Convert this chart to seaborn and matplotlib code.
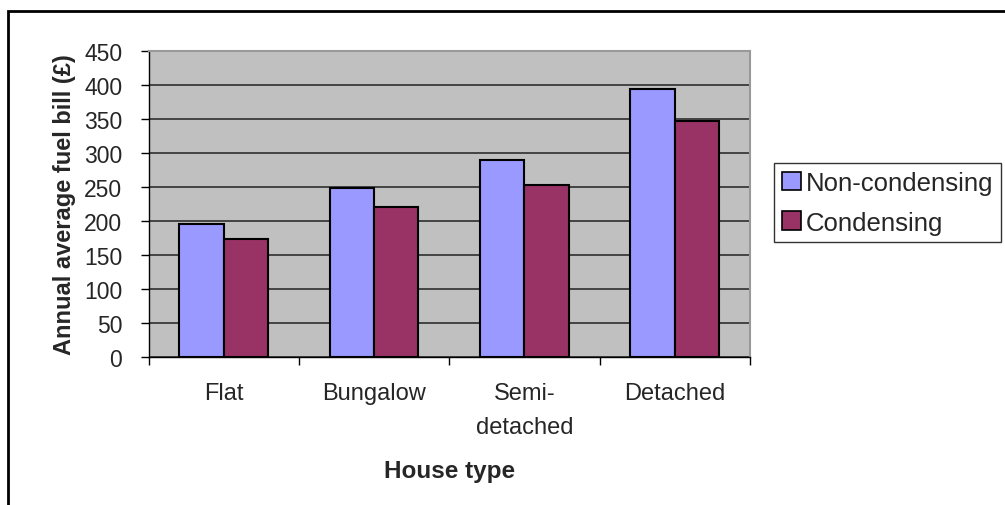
import pandas as pd
import matplotlib.pyplot as plt
import seaborn as sns
from matplotlib.patches import Rectangle

# values
house_types = ["Flat", "Bungalow", "Semi-\ndetached", "Detached"]
non_condensing = [196, 248, 289, 394]
condensing = [174, 220, 253, 347]
series_names = ["Non-condensing", "Condensing"]
y_ticks = [0, 50, 100, 150, 200, 250, 300, 350, 400, 450]

df = pd.DataFrame({
    "house": house_types * 2,
    "bill": non_condensing + condensing,
    "boiler": [series_names[0]] * 4 + [series_names[1]] * 4,
})

sns.set_style("white")
plt.rcParams['font.family'] = ['Liberation Sans', 'DejaVu Sans']

fig = plt.figure(figsize=(10.05, 5.06), dpi=100)
ax = fig.add_axes([0.1478, 0.2925, 0.5985, 0.6055])

sns.barplot(data=df, x="house", y="bill", hue="boiler",
            palette=["#9999FF", "#993366"], width=0.59,
            edgecolor="black", linewidth=1.5, saturation=1,
            ax=ax, zorder=3)

ax.set_facecolor("#C0C0C0")
ax.set_ylim(0, 450)
ax.set_xlim(-0.5, 3.5)
ax.set_yticks(y_ticks)
ax.yaxis.grid(True, color="#222222", linewidth=1.1)
ax.set_axisbelow(True)

for side in ["top", "right"]:
    ax.spines[side].set_color("#999999")
    ax.spines[side].set_linewidth(1.5)
for side in ["left", "bottom"]:
    ax.spines[side].set_color("black")
    ax.spines[side].set_linewidth(1)

ax.tick_params(axis="y", which="major", direction="out", length=6, width=1,
               color="black", labelsize=16.5, pad=13, left=True)
ax.tick_params(axis="x", which="major", length=0, labelsize=17, pad=18)
ax.set_xticks([-0.5, 0.5, 1.5, 2.5, 3.5], minor=True)
ax.tick_params(axis="x", which="minor", direction="out", length=6, width=1,
               color="black", bottom=True)
for lab in ax.get_xticklabels():
    lab.set_linespacing(1.7)

ax.set_xlabel("House type", fontsize=17.5, fontweight="bold", labelpad=15)
ax.set_ylabel("Annual average fuel bill (£)", fontsize=17, fontweight="bold", labelpad=6)

leg = ax.legend(loc="upper left", bbox_to_anchor=(774 / 1005, 1 - 164 / 506),
                bbox_transform=fig.transFigure, fontsize=18.5, frameon=True,
                fancybox=False, edgecolor="black", handlelength=0.74,
                handleheight=0.72, handletextpad=0.2, borderpad=0.3,
                labelspacing=0.62, borderaxespad=0)
leg.get_frame().set_linewidth(1)
for h in leg.legend_handles:
    h.set_edgecolor("black")
    h.set_linewidth(1.2)

fig.patches.append(Rectangle((8 / 1005, -0.1), 1.2, 1.1 - 12 / 506,
                             transform=fig.transFigure, fill=False,
                             edgecolor="black", linewidth=2))

fig.savefig("out.png", dpi=100)
